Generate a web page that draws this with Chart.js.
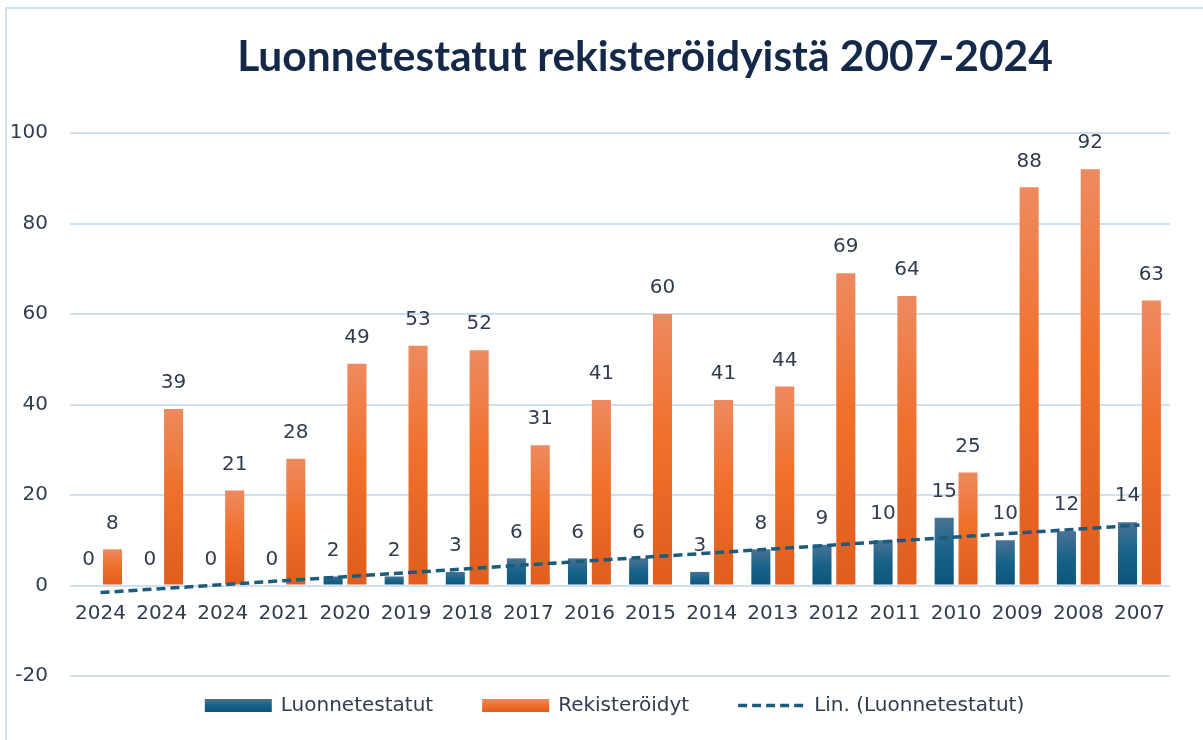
<!DOCTYPE html>
<html>
<head>
<meta charset="utf-8">
<title>Luonnetestatut rekisteröidyistä 2007-2024</title>
<script src="https://cdn.jsdelivr.net/npm/chart.js@4.4.1/dist/chart.umd.min.js"></script>
<style>
  html, body { margin: 0; padding: 0; background: #fff; }
  canvas { display: block; }
</style>
</head>
<body>
<canvas id="chart" width="1203" height="740"></canvas>
<script>
// ---- data ----
const years = ['2024', '2024', '2024', '2021', '2020', '2019', '2018', '2017', '2016',
  '2015', '2014', '2013', '2012', '2011', '2010', '2009', '2008', '2007'];
const luonnetestatut = [0, 0, 0, 0, 2, 2, 3, 6, 6, 6, 3, 8, 9, 10, 15, 10, 12, 14];
const rekisteroidyt = [8, 39, 21, 28, 49, 53, 52, 31, 41, 60, 41, 44, 69, 64, 25, 88, 92, 63];
const yMin = -20;
const yMax = 100;
const yStep = 20;
const TITLE = 'Luonnetestatut rekisteröidyistä 2007-2024';

const TEXT = '#303d4f';
const GRID = '#cfe0f3';
const FONT = "'DejaVu Sans', sans-serif";

// least squares trend of the blue series (Excel "Lin." trendline)
function linearTrend(vals) {
  const n = vals.length;
  const mx = (n - 1) / 2;
  const my = vals.reduce((a, b) => a + b, 0) / n;
  let sxy = 0, sxx = 0;
  vals.forEach((v, i) => { sxy += (i - mx) * (v - my); sxx += (i - mx) * (i - mx); });
  const k = sxy / sxx;
  return vals.map((_, i) => my + k * (i - mx));
}
const trend = linearTrend(luonnetestatut);

const blueStops = [[0, '#4a7393'], [0.5, '#17628a'], [1, '#0b5579']];
const orangeStops = [[0, '#ee8a5f'], [0.45, '#f0702c'], [1, '#e05d1c']];

// per-bar vertical gradient, lighter at the top
function barGradient(stops) {
  return (c) => {
    const { ctx, chartArea, scales } = c.chart;
    if (!chartArea || c.type !== 'data') return stops[1][1];
    const top = scales.y.getPixelForValue(c.raw);
    const base = scales.y.getPixelForValue(0);
    if (Math.abs(base - top) < 1) return stops[2][1];
    const g = ctx.createLinearGradient(0, top, 0, base);
    stops.forEach(([o, col]) => g.addColorStop(o, col));
    return g;
  };
}

// ---- plugins ----
const frame = {
  id: 'frame',
  beforeDraw(chart) {
    const { ctx, width, height } = chart;
    ctx.save();
    ctx.fillStyle = '#fff';
    ctx.fillRect(0, 0, width, height);
    ctx.strokeStyle = GRID;
    ctx.lineWidth = 2;
    ctx.strokeRect(6, 8, width + 50, height + 50);
    ctx.restore();
  },
};

const titlePlugin = {
  id: 'titleText',
  afterDraw(chart) {
    const ctx = chart.ctx;
    ctx.save();
    let size = 36;
    ctx.font = `bold ${size}px Lato, sans-serif`;
    const w = ctx.measureText(TITLE).width;
    size = size * 816 / w;
    ctx.font = `bold ${size}px Lato, sans-serif`;
    ctx.fillStyle = '#14294a';
    ctx.textAlign = 'center';
    ctx.textBaseline = 'middle';
    ctx.fillText(TITLE, 645, 57);
    ctx.restore();
  },
};

const valueLabels = {
  id: 'valueLabels',
  afterDatasetsDraw(chart) {
    const ctx = chart.ctx;
    ctx.save();
    ctx.font = `20px ${FONT}`;
    ctx.fillStyle = TEXT;
    ctx.textAlign = 'center';
    ctx.textBaseline = 'middle';
    chart.data.datasets.forEach((ds, di) => {
      if (ds.type === 'line') return;
      chart.getDatasetMeta(di).data.forEach((bar, i) => {
        ctx.fillText(String(ds.data[i]), bar.x, bar.y - 26);
      });
    });
    ctx.restore();
  },
};

const legendPlugin = {
  id: 'bottomLegend',
  afterDraw(chart) {
    const ctx = chart.ctx;
    const keyW = 67, keyH = 13, keyGap = 9, itemGap = 49, cy = 705.5;
    ctx.save();
    ctx.font = `20px ${FONT}`;
    const items = chart.data.datasets.map((ds) => ({ ds, w: ctx.measureText(ds.label).width }));
    const total = items.reduce((s, it) => s + keyW + keyGap + it.w, 0) + itemGap * (items.length - 1);
    let x = 614.5 - total / 2;
    items.forEach(({ ds, w }) => {
      if (ds.type === 'line') {
        ctx.strokeStyle = ds.borderColor;
        ctx.lineWidth = ds.borderWidth;
        ctx.setLineDash([9, 5]);
        ctx.beginPath();
        ctx.moveTo(x, cy);
        ctx.lineTo(x + keyW, cy);
        ctx.stroke();
        ctx.setLineDash([]);
      } else {
        const st = ds.legendStops;
        const g = ctx.createLinearGradient(0, cy - keyH / 2, 0, cy + keyH / 2);
        st.forEach(([o, col]) => g.addColorStop(o, col));
        ctx.fillStyle = g;
        ctx.fillRect(x, cy - keyH / 2, keyW, keyH);
      }
      ctx.fillStyle = TEXT;
      ctx.textBaseline = 'middle';
      ctx.fillText(ds.label, x + keyW + keyGap, cy);
      x += keyW + keyGap + w + itemGap;
    });
    ctx.restore();
  },
};

new Chart(document.getElementById('chart'), {
  type: 'bar',
  data: {
    labels: years,
    datasets: [
      {
        label: 'Luonnetestatut',
        data: luonnetestatut,
        backgroundColor: barGradient(blueStops),
        legendStops: blueStops,
        categoryPercentage: 0.78,
        barPercentage: 0.8,
        order: 1,
      },
      {
        label: 'Rekisteröidyt',
        data: rekisteroidyt,
        backgroundColor: barGradient(orangeStops),
        legendStops: orangeStops,
        categoryPercentage: 0.78,
        barPercentage: 0.8,
        order: 1,
      },
      {
        type: 'line',
        label: 'Lin. (Luonnetestatut)',
        data: trend,
        borderColor: '#1b5c7c',
        borderWidth: 3.5,
        borderDash: [9, 5],
        pointRadius: 0,
        fill: false,
        order: 0,
      },
    ],
  },
  options: {
    responsive: false,
    animation: false,
    layout: { padding: { top: 133, right: 33, bottom: 64, left: 10 } },
    plugins: {
      legend: { display: false },
      title: { display: false },
      tooltip: { enabled: false },
    },
    scales: {
      x: {
        position: { y: 0 },
        grid: { display: false },
        border: { display: false },
        ticks: {
          color: TEXT,
          font: { family: FONT, size: 20 },
          padding: 8,
          maxRotation: 0,
          autoSkip: false,
        },
      },
      y: {
        min: yMin,
        max: yMax,
        afterFit: (scale) => { scale.width = 60; },
        grid: { color: GRID, lineWidth: 2, drawTicks: false },
        border: { display: false },
        ticks: {
          stepSize: yStep,
          color: TEXT,
          font: { family: FONT, size: 20 },
          padding: 22,
        },
      },
    },
  },
  plugins: [frame, valueLabels, legendPlugin, titlePlugin],
});
</script>
</body>
</html>
